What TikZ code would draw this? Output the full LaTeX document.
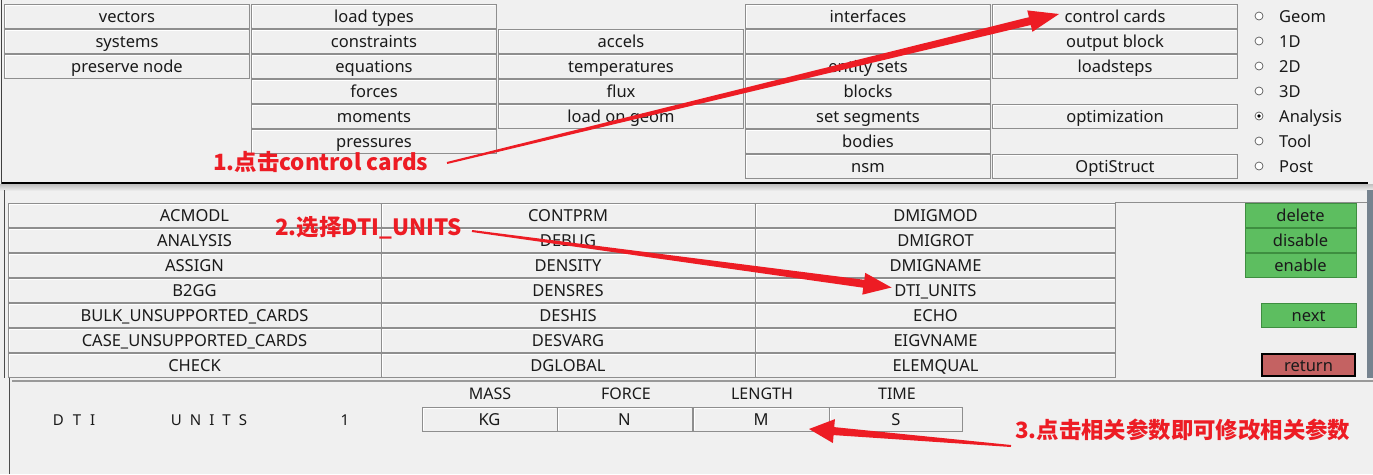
\documentclass[tikz,border=0pt]{standalone}
\usepackage{fontspec}
\setmainfont{Noto Sans}
\newfontfamily\cjk{Noto Sans CJK SC}
\usetikzlibrary{calc}
\definecolor{bg}{HTML}{F0F0F0}
\definecolor{edge}{HTML}{8E8E8E}
\definecolor{grn}{HTML}{5DBE60}
\definecolor{grnedge}{HTML}{3E8E40}
\definecolor{retfill}{HTML}{C46262}
\definecolor{annred}{HTML}{ED1C24}
\definecolor{ink}{HTML}{1A1A1A}
\definecolor{barblue}{HTML}{76838F}
\tikzset{
  uifont/.style={font=\fontsize{16.5}{18}\selectfont},
  btn/.style={draw=edge, line width=0.8pt, fill=bg, inner sep=0pt, minimum height=24pt,
    text=ink, uifont, text height=12pt, text depth=0pt,
    path picture={\draw[white, line width=1.2pt]
      ([shift={(1.2pt,1.2pt)}]path picture bounding box.south west) |-
      ([shift={(-1.2pt,-1.2pt)}]path picture bounding box.north east);}},
  topbtn/.style={btn, minimum width=245pt},
  midbtn/.style={btn},
  gbtn/.style={btn, fill=grn, draw=grnedge, path picture={}},
  rbtn/.style={btn, fill=retfill, draw=black, line width=1.6pt, path picture={}},
  valbtn/.style={btn, minimum height=24pt},
  radio/.style={circle, draw=black!65, fill=white, line width=0.7pt, minimum size=8pt, inner sep=0pt},
  rlabel/.style={anchor=west, inner sep=0pt, text=ink, uifont, text height=12pt, text depth=0pt},
  plain/.style={inner sep=0pt, text=ink, font=\fontsize{16}{18}\selectfont, text height=12pt, text depth=1pt},
  ann/.style={anchor=west, inner sep=0pt, text=annred, font=\cjk\bfseries\fontsize{22.4}{24}\selectfont},
}
\newcommand\fatarrow[6]{% tail, tip, head length, head half width, shaft half width, prefix
  \coordinate (#6B) at ($(#2)!#3!(#1)$);
  \fill[annred] ($(#1)!1pt!90:(#2)$) -- ($(#6B)!#5!90:(#2)$) -- ($(#6B)!#4!90:(#2)$) -- (#2)
    -- ($(#6B)!#4!-90:(#2)$) -- ($(#6B)!#5!-90:(#2)$) -- ($(#1)!1pt!-90:(#2)$) -- cycle;}
\begin{document}
\begin{tikzpicture}[x=1pt,y=-1pt]
\useasboundingbox (0,0) rectangle (1373,474);
\fill[bg] (0,0) rectangle (1373,474);

% ---------- frames ----------
\draw[black!75, line width=1pt] (1.5,0) -- (1.5,184);
\shade[top color=black!25, bottom color=bg] (0,184) rectangle (1373,191);
\draw[black, line width=1.2pt] (2,183) -- (1368,183);
\draw[black!70, line width=1pt] (4.5,190) -- (4.5,378);
\fill[barblue] (1367,190) rectangle (1373,378);
\draw[edge, line width=0.8pt] (1115,202.5) -- (1367,202.5);
\draw[black!70, line width=1pt] (9,378) -- (9,474);
\draw[black!40, line width=2pt] (12,380.5) -- (1373,380.5);

% ---------- top grid ----------
\node[topbtn] (v1) at (127,16) {vectors};
\node[topbtn] (v2) at (127,41) {systems};
\node[topbtn] (v3) at (127,66) {preserve node};
\node[topbtn] (l1) at (374,16) {load types};
\node[topbtn] (l2) at (374,41) {constraints};
\node[topbtn] (l3) at (374,66) {equations};
\node[topbtn] (l4) at (374,91) {forces};
\node[topbtn] (l5) at (374,116) {moments};
\node[topbtn] (l6) at (374,141) {pressures};
\node[topbtn] (c2) at (621,41) {accels};
\node[topbtn] (c3) at (621,66) {temperatures};
\node[topbtn] (c4) at (621,91) {flux};
\node[topbtn] (c5) at (621,116) {load on geom};
\node[topbtn] (i1) at (868,16) {interfaces};
\node[topbtn] (i2) at (868,41) {};
\node[topbtn] (i3) at (868,66) {entity sets};
\node[topbtn] (i4) at (868,91) {blocks};
\node[topbtn] (i5) at (868,116) {set segments};
\node[topbtn] (i6) at (868,141) {bodies};
\node[topbtn] (i7) at (868,166) {nsm};
\node[topbtn] (k1) at (1115,16) {control cards};
\node[topbtn] (k2) at (1115,41) {output block};
\node[topbtn] (k3) at (1115,66) {loadsteps};
\node[topbtn] (k5) at (1115,116) {optimization};
\node[topbtn] (k7) at (1115,166) {OptiStruct};

% ---------- radio buttons ----------
\foreach \y/\t/\n in {16/Geom/1, 41/1D/2, 66/2D/3, 91/3D/4, 116/Analysis/5, 141/Tool/6, 166/Post/7}{
  \node[radio] (rb\n) at (1259,\y) {};
  \node[rlabel] (rl\n) at (1279,\y) {\t};
}
\fill[black] (rb5.center) circle (1.8pt);

% ---------- middle grid ----------
\foreach \t [count=\i from 0] in {ACMODL, ANALYSIS, ASSIGN, B2GG, BULK\_UNSUPPORTED\_CARDS, CASE\_UNSUPPORTED\_CARDS, CHECK}{
  \node[midbtn, minimum width=373pt] (ma\i) at (194.5,215.5+25*\i) {\t};
}
\foreach \t [count=\i from 0] in {CONTPRM, DEBUG, DENSITY, DENSRES, DESHIS, DESVARG, DGLOBAL}{
  \node[midbtn, minimum width=374pt] (mb\i) at (568,215.5+25*\i) {\t};
}
\foreach \t [count=\i from 0] in {DMIGMOD, DMIGROT, DMIGNAME, DTI\_UNITS, ECHO, EIGVNAME, ELEMQUAL}{
  \node[midbtn, minimum width=360pt] (mc\i) at (935.5,215.5+25*\i) {\t};
}

% ---------- action buttons ----------
\node[gbtn, minimum width=111pt] (del) at (1300.5,215) {delete};
\node[gbtn, minimum width=111pt] (dis) at (1300.5,240) {disable};
\node[gbtn, minimum width=111pt] (ena) at (1300.5,265) {enable};
\node[gbtn, minimum width=95pt] (nxt) at (1308.5,315) {next};
\node[rbtn, minimum width=93pt, minimum height=22pt] (ret) at (1308.5,365) {return};

% ---------- bottom panel ----------
\node[plain, font=\fontsize{15}{18}\selectfont] (dti) at (74,420) {D\hspace{9pt}T\hspace{9pt}I};
\node[plain, font=\fontsize{15}{18}\selectfont] (units) at (209,420) {U\hspace{8pt}N\hspace{8pt}I\hspace{8pt}T\hspace{8pt}S};
\node[plain, font=\fontsize{15}{18}\selectfont] (one) at (345,420) {1};
\node[plain] (hmass) at (490,394) {MASS};
\node[plain] (hforce) at (626,394) {FORCE};
\node[plain] (hlen) at (762,394) {LENGTH};
\node[plain] (htime) at (897,394) {TIME};
\node[valbtn, minimum width=135pt] (kg) at (489.5,419) {KG};
\node[valbtn, minimum width=135pt] (nn) at (624.5,419) {N};
\node[valbtn, minimum width=136pt] (mm) at (761,419) {M};
\node[valbtn, minimum width=133pt] (ss) at (896,419) {S};

% ---------- annotations ----------
\node[ann] (a1) at (213,162) {1.点击control cards};
\node[ann] (a2) at (275,228) {2.选择DTI\_UNITS};
\node[ann] (a3) at (1015,430) {3.点击相关参数即可修改相关参数};

\coordinate (a1t) at (447,163);
\coordinate (a1h) at ($(k1.center)+(-56,-2)$);
\coordinate (a2t) at (472,231);
\coordinate (a2h) at ($(mc3.center)+(-44,-3)$);
\coordinate (a3t) at (1011,446);
\coordinate (a3h) at ($(mm.center)+(48,10)$);
\fatarrow{a1t}{a1h}{30pt}{11pt}{4pt}{p1}
\fatarrow{a2t}{a2h}{28pt}{11pt}{4pt}{p2}
\fatarrow{a3t}{a3h}{25pt}{12pt}{4pt}{p3}
\end{tikzpicture}
\end{document}
